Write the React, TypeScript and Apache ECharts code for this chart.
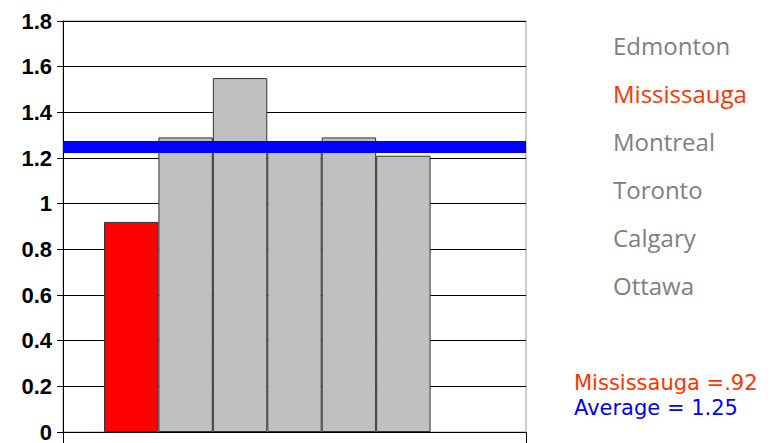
import React, { useEffect, useRef } from "react";
import * as echarts from "echarts";

// Bars, left to right
const CITIES = ["Mississauga", "Edmonton", "Montreal", "Toronto", "Calgary", "Ottawa"];
const VALUES = [0.92, 1.29, 1.55, 1.24, 1.29, 1.21];
const BAR_COLORS = ["#FF0000", "#C0C0C0", "#C0C0C0", "#C0C0C0", "#C0C0C0", "#C0C0C0"];

// Listing on the right, top to bottom
const LEGEND_ORDER = ["Edmonton", "Mississauga", "Montreal", "Toronto", "Calgary", "Ottawa"];
const HIGHLIGHT = "Mississauga";

const AVERAGE = 1.25;
const Y_MIN = 0;
const Y_MAX = 1.8;
const Y_STEP = 0.2;

const fmtShort = (v: number) => v.toFixed(2).replace(/^0/, "");

export default function App() {
  const ref = useRef<HTMLDivElement>(null);

  useEffect(() => {
    if (!ref.current) return;
    const chart = echarts.init(ref.current, undefined, { renderer: "svg" });

    const barSeries: any[] = CITIES.map((name, i) => ({
      name,
      type: "bar",
      data: [VALUES[i]],
      barGap: "0%",
      barCategoryGap: "17.7%",
      itemStyle: { color: BAR_COLORS[i], borderColor: "#333333", borderWidth: 1 },
    }));
    // Empty slot that carries the average line
    barSeries.push({
      name: "Average",
      type: "bar",
      data: [null],
      barGap: "0%",
      barCategoryGap: "17.7%",
      markLine: {
        silent: true,
        symbol: "none",
        label: { show: false },
        lineStyle: { color: "#0000FF", width: 12, type: "solid" },
        data: [{ yAxis: AVERAGE }],
      },
    });

    const labelFont = "'Open Sans', 'Noto Sans', sans-serif";
    const noteFont = "'DejaVu Sans', sans-serif";
    const hiIdx = CITIES.indexOf(HIGHLIGHT);

    chart.setOption({
      animation: false,
      backgroundColor: "#ffffff",
      grid: {
        left: 63,
        top: 21,
        width: 463,
        height: 413,
        show: true,
        borderColor: "#999999",
        borderWidth: 1,
        backgroundColor: "transparent",
      },
      xAxis: {
        type: "category",
        data: [""],
        axisLine: { show: true, lineStyle: { color: "#000000", width: 1 } },
        axisTick: { show: true, length: 12, lineStyle: { color: "#000000" } },
        axisLabel: { show: false },
      },
      yAxis: {
        type: "value",
        min: Y_MIN,
        max: Y_MAX,
        interval: Y_STEP,
        axisLine: { show: true, lineStyle: { color: "#000000", width: 1 } },
        axisTick: { show: true, length: 6, lineStyle: { color: "#000000" } },
        splitLine: { show: true, lineStyle: { color: "#000000", width: 1 } },
        axisLabel: {
          margin: 11,
          color: "#000000",
          fontFamily: "'Liberation Sans', Arial, sans-serif",
          fontWeight: "bold",
          fontSize: 22,
          formatter: (v: number) => String(Math.round(v * 10) / 10),
        },
      },
      legend: {
        orient: "vertical",
        left: 608,
        top: 33,
        padding: 0,
        itemGap: 24,
        itemWidth: 0,
        itemHeight: 0,
        icon: "none",
        selectedMode: false,
        data: LEGEND_ORDER.map((name) => ({
          name,
          textStyle: { color: name === HIGHLIGHT ? "#FF3300" : "#808080" },
        })),
        textStyle: {
          fontFamily: labelFont,
          fontSize: 24,
          lineHeight: 24,
          color: "#808080",
        },
      },
      graphic: [
        {
          type: "text",
          left: 574,
          top: 372,
          style: {
            text: `${HIGHLIGHT} =${fmtShort(VALUES[hiIdx])}`,
            fill: "#FF3300",
            font: `21px ${noteFont}`,
          },
        },
        {
          type: "text",
          left: 574,
          top: 397,
          style: {
            text: `Average = ${AVERAGE.toFixed(2)}`,
            fill: "#0000FF",
            font: `21px ${noteFont}`,
          },
        },
      ],
      series: barSeries,
    });

    return () => chart.dispose();
  }, []);

  return (
    <div
      ref={ref}
      style={{ position: "fixed", left: 0, top: 0, width: 779, height: 443, background: "#fff" }}
    />
  );
}
